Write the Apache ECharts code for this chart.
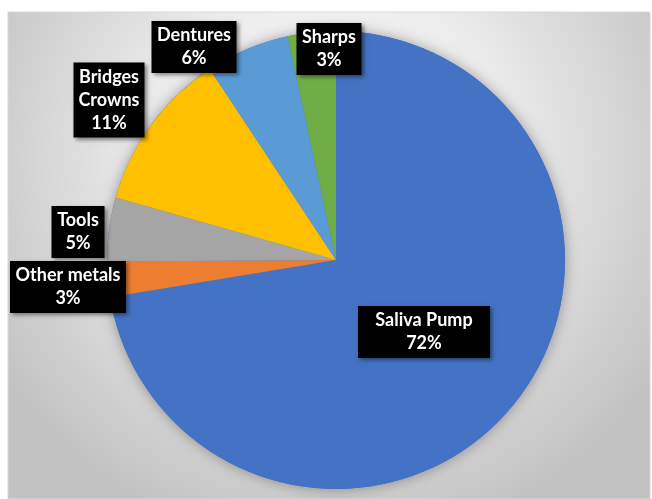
<!DOCTYPE html>
<html>
<head>
<meta charset="utf-8">
<script src="https://cdn.jsdelivr.net/npm/echarts@6/dist/echarts.min.js"></script>
<style>
  html, body { margin: 0; padding: 0; background: #fff; }
  #main { width: 652px; height: 499px; }
</style>
</head>
<body>
<div id="main"></div>
<script>
    'use strict'

    /* Chart data */
    var categories = ['Saliva Pump', 'Other metals', 'Tools', 'Bridges\nCrowns', 'Dentures', 'Sharps'];
    var shares = [72.4, 2.5, 4.5, 11.3, 5.9, 3.4];
    var colors = ['#4472C4', '#ED7D31', '#A5A5A5', '#FFC000', '#5B9BD5', '#70AD47'];

    /* label boxes placed by hand, as in the original: centre x, centre y, box width */
    var labelBoxes = [
        [424, 332, 132],
        [68, 287, 116],
        [78, 232, 53],
        [109, 100, 71],
        [194, 47, 85],
        [329, 49, 65]
    ];

    var total = shares.reduce(function (a, b) { return a + b; }, 0);

    var chart = echarts.init(document.getElementById('main'));

    var option = {
        animation: false,
        graphic: [{
            type: 'rect',
            z: -10,
            shape: { x: 8, y: 12, width: 642, height: 487 },
            style: {
                fill: new echarts.graphic.RadialGradient(0.5, 0.3, 0.8, [
                    { offset: 0, color: '#ffffff' },
                    { offset: 0.45, color: '#ececec' },
                    { offset: 1, color: '#c2c2c2' }
                ]),
                stroke: '#d9d9d9',
                lineWidth: 1
            }
        }],
        series: [
            {
                /* shadow disc under the pie */
                type: 'pie',
                silent: true,
                z: 1,
                center: [336, 260],
                radius: 229,
                label: { show: false },
                labelLine: { show: false },
                itemStyle: {
                    color: '#4472C4',
                    shadowBlur: 14,
                    shadowColor: 'rgba(0,0,0,0.35)'
                },
                data: [total]
            },
            {
                type: 'pie',
                z: 2,
                center: [336, 260],
                radius: 229,
                startAngle: 90,
                clockwise: true,
                labelLine: { show: false },
                label: {
                    show: true,
                    position: 'inside',
                    color: '#ffffff',
                    fontFamily: 'Lato',
                    fontWeight: 'bold',
                    fontSize: 18,
                    lineHeight: 23,
                    align: 'center',
                    backgroundColor: '#000000',
                    padding: [3, 0],
                    shadowBlur: 4,
                    shadowColor: 'rgba(0,0,0,0.45)',
                    shadowOffsetX: 2,
                    shadowOffsetY: 2,
                    formatter: function (p) {
                        return p.name + '\n' + Math.round(p.percent) + '%';
                    }
                },
                labelLayout: function (p) {
                    var b = labelBoxes[p.dataIndex];
                    return { x: b[0], y: b[1], align: 'center', verticalAlign: 'middle' };
                },
                data: categories.map(function (c, i) {
                    return {
                        name: c,
                        value: shares[i],
                        itemStyle: { color: colors[i] },
                        label: { width: labelBoxes[i][2] }
                    };
                })
            }
        ]
    };

    chart.setOption(option);
</script>
</body>
</html>
